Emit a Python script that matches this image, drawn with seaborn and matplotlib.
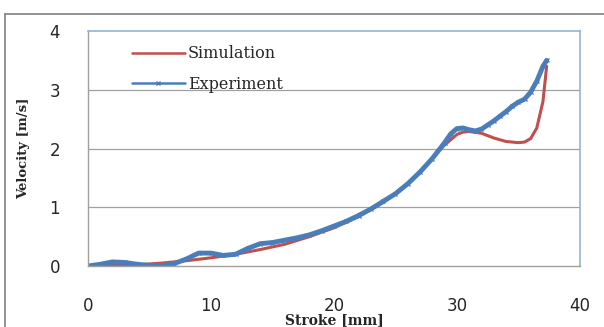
import numpy as np
import pandas as pd
import seaborn as sns
import matplotlib.pyplot as plt
from matplotlib.lines import Line2D

# stroke [mm] / velocity [m/s]
sim_stroke = [0, 2, 4, 6, 8, 10, 12, 14, 16, 18, 20, 22, 24, 25, 26, 27, 28, 29, 30,
              30.5, 31, 32, 33, 34, 35, 35.5, 36, 36.5, 37, 37.3]
sim_velocity = [0, 0.01, 0.02, 0.05, 0.09, 0.14, 0.2, 0.28, 0.37, 0.5, 0.65, 0.84, 1.08,
                1.23, 1.4, 1.6, 1.83, 2.06, 2.24, 2.28, 2.29, 2.26, 2.18, 2.12, 2.1,
                2.11, 2.17, 2.35, 2.8, 3.4]

exp_stroke = [0, 1, 2, 3, 4, 5, 6, 7, 8, 9, 10, 11, 12, 13, 14, 15, 16, 17, 18, 19, 20,
              21, 22, 23, 24, 25, 26, 27, 28, 29, 29.5, 30, 30.5, 31, 31.5, 32, 32.5, 33,
              33.5, 34, 34.5, 35, 35.5, 36, 36.5, 37, 37.3]
exp_velocity = [0, 0.03, 0.07, 0.06, 0.03, 0.01, 0.01, 0.04, 0.12, 0.22, 0.22, 0.18, 0.2,
                0.3, 0.38, 0.4, 0.44, 0.48, 0.53, 0.6, 0.68, 0.76, 0.86, 0.97, 1.1, 1.23,
                1.4, 1.6, 1.83, 2.1, 2.25, 2.34, 2.35, 2.32, 2.3, 2.33, 2.4, 2.47, 2.55,
                2.63, 2.72, 2.79, 2.84, 2.96, 3.15, 3.4, 3.5]

sim = pd.DataFrame({"Stroke": sim_stroke, "Velocity": sim_velocity})
exp = pd.DataFrame({"Stroke": exp_stroke, "Velocity": exp_velocity})

sns.set_style("white")
fig = plt.figure(figsize=(6.04, 3.27), dpi=100)
ax = fig.add_axes([0.1457, 0.1865, 0.8143, 0.7185])

red = "#c0504d"
blue = "#4a7ebb"
sns.lineplot(data=sim, x="Stroke", y="Velocity", ax=ax, color=red, lw=2.2,
             label="Simulation", sort=False)
sns.lineplot(data=exp, x="Stroke", y="Velocity", ax=ax, color=blue, lw=3.5,
             marker="x", markersize=3.5, markeredgewidth=1, markeredgecolor=blue,
             label="Experiment", sort=False)

ax.set_xlim(0, 40)
ax.set_ylim(0, 4)
ax.set_xticks([0, 10, 20, 30, 40])
ax.set_yticks([0, 1, 2, 3, 4])
ax.tick_params(axis="x", labelsize=12, pad=22, length=0)
ax.tick_params(axis="y", labelsize=12, pad=20, length=0)
for y in [1, 2, 3]:
    ax.axhline(y, color="#a0a0a0", lw=0.9, zorder=0)

for s in ["left", "bottom"]:
    ax.spines[s].set_color("#a0a0a0")
    ax.spines[s].set_linewidth(1)
for s in ["top", "right"]:
    ax.spines[s].set_color("#95b3d7")
    ax.spines[s].set_linewidth(1.2)

ax.set_xlabel("Stroke [mm]", family="DejaVu Serif", fontweight="bold", fontsize=10, labelpad=-1)
ax.set_ylabel("Velocity [m/s]", family="DejaVu Serif", fontweight="bold", fontsize=9.5, labelpad=14)

leg = ax.legend(loc="upper left", bbox_to_anchor=(0.06, 1.0), frameon=False,
                prop={"family": "DejaVu Serif", "size": 11.5}, handlelength=3.3,
                handletextpad=0.2, labelspacing=0.85)
for h in leg.get_lines():
    h.set_linewidth(1.8)
    h.set_markersize(2.5)

# outer chart frame
fig.add_artist(Line2D([0.009, 1.0], [0.958, 0.958], color="#808080", lw=1.2,
                      transform=fig.transFigure))
fig.add_artist(Line2D([0.009, 0.009], [0.0, 0.958], color="#808080", lw=1.2,
                      transform=fig.transFigure))

fig.savefig("out.png", dpi=100)
